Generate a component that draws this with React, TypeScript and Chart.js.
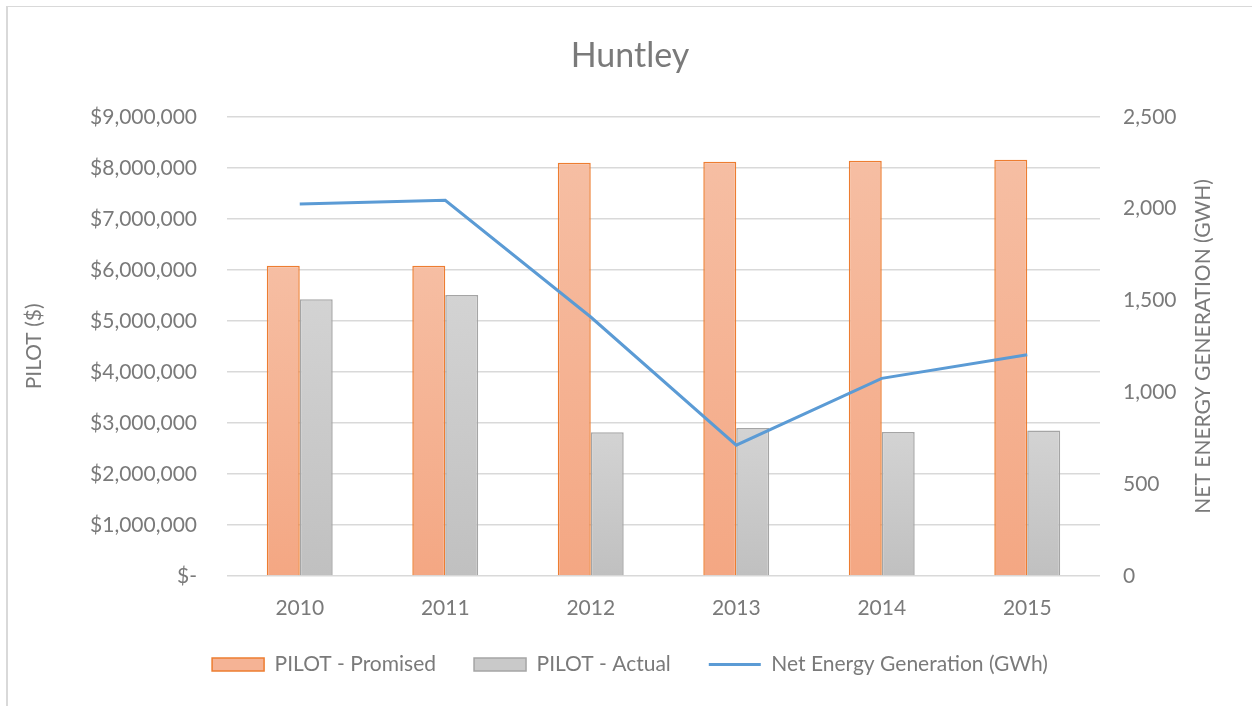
import React, { useEffect, useRef } from "react";
import { Chart, registerables } from "chart.js";

Chart.register(...registerables);

const years = ["2010", "2011", "2012", "2013", "2014", "2015"];
const pilotPromised = [6080000, 6080000, 8100000, 8120000, 8140000, 8160000];
const pilotActual = [5425000, 5505000, 2817000, 2900000, 2823000, 2850000];
const netEnergy = [2025, 2045, 1410, 712, 1076, 1205];

const TEXT = "#7a7a7a";
const FONT = "Lato";

export default function App() {
  const ref = useRef<HTMLCanvasElement>(null);

  useEffect(() => {
    const canvas = ref.current!;
    const barGrad = (top: string, bottom: string, solid: string) => (c: any) => {
      const chart = c.chart;
      if (!chart.chartArea || c.type !== "data") return solid;
      const y = chart.scales.y;
      const t = y.getPixelForValue(c.raw);
      const b = y.getPixelForValue(0);
      if (!isFinite(t) || !isFinite(b) || t === b) return solid;
      const g = chart.ctx.createLinearGradient(0, t, 0, b);
      g.addColorStop(0, top);
      g.addColorStop(1, bottom);
      return g;
    };

    const rightTitle = {
      id: "rightTitle",
      afterDraw(chart: any) {
        const ctx = chart.ctx;
        const area = chart.chartArea;
        const s = chart.scales.y1;
        ctx.save();
        ctx.translate(s.right - 49, (area.top + area.bottom) / 2);
        ctx.rotate(-Math.PI / 2);
        ctx.textAlign = "center";
        ctx.textBaseline = "middle";
        ctx.font = `21px ${FONT}`;
        ctx.fillStyle = TEXT;
        ctx.fillText("NET ENERGY GENERATION (GWH)", 0, 0);
        ctx.restore();
      },
    };

    const chart = new Chart(canvas, {
      type: "bar",
      data: {
        labels: years,
        datasets: [
          {
            type: "bar",
            label: "PILOT - Promised",
            data: pilotPromised,
            backgroundColor: barGrad("#F6BEA3", "#F4A783", "#F5B395"),
            borderColor: "#ED7D31",
            borderWidth: 1.5,
            yAxisID: "y",
            order: 1,
            categoryPercentage: 0.453,
            barPercentage: 1,
          },
          {
            type: "bar",
            label: "PILOT - Actual",
            data: pilotActual,
            backgroundColor: barGrad("#D3D3D3", "#C0C0C0", "#C9C9C9"),
            borderColor: "#A5A5A5",
            borderWidth: 1.5,
            yAxisID: "y",
            order: 2,
            categoryPercentage: 0.453,
            barPercentage: 1,
          },
          {
            type: "line",
            label: "Net Energy Generation (GWh)",
            data: netEnergy,
            borderColor: "#5B9BD5",
            backgroundColor: "#5B9BD5",
            borderWidth: 3,
            pointRadius: 0,
            tension: 0,
            yAxisID: "y1",
            order: 0,
          } as any,
        ],
      },
      options: {
        responsive: false,
        animation: false,
        layout: { padding: { left: 0, right: 0, top: 0, bottom: 21 } },
        font: { family: FONT },
        plugins: {
          tooltip: { enabled: false },
          title: {
            display: true,
            text: "Huntley",
            color: TEXT,
            font: { family: FONT, size: 34, weight: "normal" },
            padding: { top: 29, bottom: 40 },
          },
          legend: {
            position: "bottom",
            labels: {
              color: TEXT,
              font: { family: FONT, size: 21 },
              usePointStyle: true,
              pointStyleWidth: 52,
              boxHeight: 13,
              padding: 38,
              generateLabels: (chart: any) => {
                const items = Chart.defaults.plugins.legend.labels.generateLabels(chart);
                items.sort((a: any, b: any) => a.datasetIndex - b.datasetIndex);
                return items.map((it: any) => {
                  if (it.datasetIndex === 0) {
                    return { ...it, fillStyle: "#F5B395", strokeStyle: "#ED7D31", lineWidth: 1.5, pointStyle: "rect" };
                  }
                  if (it.datasetIndex === 1) {
                    return { ...it, fillStyle: "#C9C9C9", strokeStyle: "#A5A5A5", lineWidth: 1.5, pointStyle: "rect" };
                  }
                  return { ...it, strokeStyle: "#5B9BD5", lineWidth: 3, pointStyle: "line" };
                });
              },
            },
          },
        },
        scales: {
          x: {
            grid: { display: false },
            border: { display: false },
            ticks: { color: TEXT, font: { family: FONT, size: 21 }, padding: 12 },
            afterFit: (s: any) => {
              s.height = 40;
            },
          },
          y: {
            position: "left",
            min: 0,
            max: 9000000,
            grid: { color: "#D9D9D9", lineWidth: 1.5, drawTicks: false },
            border: { display: false },
            ticks: {
              stepSize: 1000000,
              color: TEXT,
              font: { family: FONT, size: 21 },
              padding: 30,
              callback: (v: any) => (Number(v) === 0 ? "$-" : "$" + Number(v).toLocaleString("en-US")),
            },
            title: {
              display: true,
              text: "PILOT ($)",
              color: TEXT,
              font: { family: FONT, size: 21 },
              padding: { top: 14, bottom: 0 },
            },
            afterFit: (s: any) => {
              s.width = 219;
            },
          },
          y1: {
            position: "right",
            min: 0,
            max: 2500,
            grid: { display: false, drawTicks: false },
            border: { display: false },
            ticks: {
              stepSize: 500,
              color: TEXT,
              font: { family: FONT, size: 21 },
              padding: 23,
              callback: (v: any) => Number(v).toLocaleString("en-US"),
            },
            afterFit: (s: any) => {
              s.width = 152;
            },
          },
        },
      } as any,
      plugins: [rightTitle],
    });
    return () => chart.destroy();
  }, []);

  return (
    <div
      style={{
        position: "fixed",
        left: 6,
        top: 6,
        width: 1246,
        height: 700,
        boxSizing: "border-box",
        borderLeft: "2px solid #D9D9D9",
        borderTop: "1px solid #D9D9D9",
        background: "#fff",
      }}
    >
      <canvas ref={ref} width={1244} height={699} style={{ display: "block" }} />
    </div>
  );
}
